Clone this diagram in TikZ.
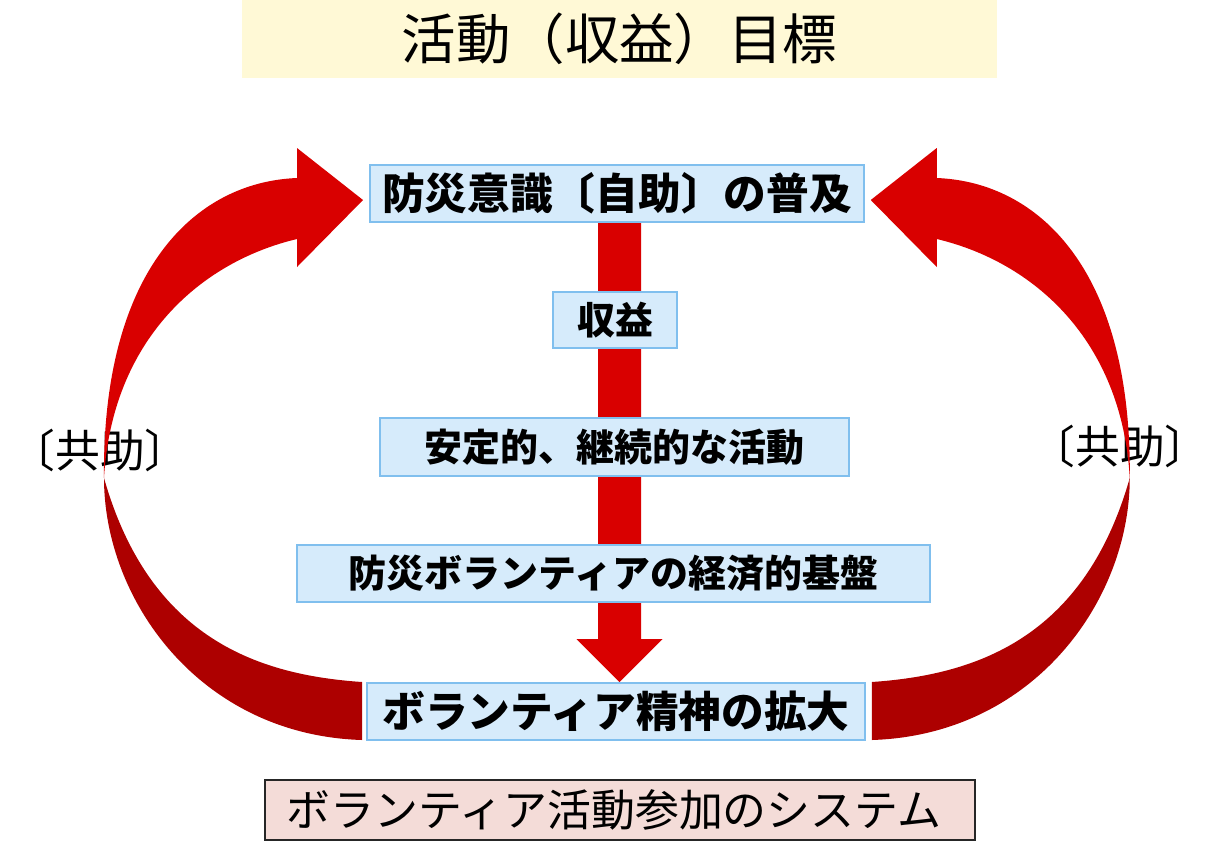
\documentclass[tikz,border=0pt]{standalone}
\usepackage{fontspec}
\setmainfont{Noto Sans CJK JP}
\usetikzlibrary{calc, arrows.meta, positioning, backgrounds}
\definecolor{goalfill}{HTML}{FFF9D6}
\definecolor{stagefill}{HTML}{D6EBFB}
\definecolor{stageline}{HTML}{80BFEE}
\definecolor{sysfill}{HTML}{F4DCD8}
\definecolor{brightred}{HTML}{D90000}
\definecolor{darkred}{HTML}{AD0000}
\newcommand{\bigjp}{\fontsize{24.3pt}{28pt}\selectfont\bfseries}
\newcommand{\midjp}{\fontsize{21.6pt}{25pt}\selectfont\bfseries}
% twisted ribbon arrow, left hand side
\newcommand{\ribbon}{%
	\fill[brightred] (104,478) .. controls (102,270) and (195,182) .. (297,178) -- (297,148) -- (363,200) -- (297,267) -- (297,239)
		.. controls (200,262) and (112,340) .. (104,478) -- cycle;
	\fill[darkred] (104,478) .. controls (104,600) and (200,735) .. (362,740) -- (362,682)
		.. controls (260,675) and (150,640) .. (104,478) -- cycle;
}

\begin{document}
\begin{tikzpicture}[x=0.02cm, y=-0.02cm,
	goal/.style={fill=goalfill, inner sep=0pt, minimum width=15.1cm, minimum height=1.56cm, font=\fontsize{31pt}{36pt}\selectfont},
	stage/.style={draw=stageline, line width=1.1pt, fill=stagefill, inner sep=0pt, minimum height=1.14cm},
	system/.style={draw=black!85, line width=1.2pt, fill=sysfill, inner sep=0pt, minimum width=14.2cm, minimum height=1.2cm, font=\fontsize{25pt}{30pt}\selectfont},
	mutual/.style={inner sep=0pt, font=\fontsize{25.5pt}{30pt}\selectfont}]
	\useasboundingbox (0,0) rectangle (1213,843);

	\node[goal] (goal) at (619.5,39) {活動（収益）目標};

	\node[stage, minimum width=9.88cm, font=\bigjp] (aware) at (617,193.5) {防災意識〔自助〕の普及};
	\node[stage, minimum width=2.48cm, minimum height=1.12cm, font=\midjp] (profit) at (615,320) {収益};
	\node[stage, minimum width=9.38cm, minimum height=1.16cm, font=\midjp] (steady) at (614.5,447) {安定的、継続的な活動};
	\node[stage, minimum width=12.66cm, font=\midjp] (base) at (613.5,573.5) {防災ボランティアの経済的基盤};
	\node[stage, minimum width=9.96cm, font=\bigjp] (spirit) at (616,711.5) {ボランティア精神の拡大};

	\node[system] (system) at (620,810) {\hspace{-0.25cm}ボランティア活動参加のシステム};

	\node[mutual] (mutualL) at (100,450) {〔共助〕};
	\node[mutual] (mutualR) at (1120,446) {〔共助〕};

	\begin{scope}[on background layer]
		\draw[brightred, line width=0.86cm, -{Triangle[width=1.72cm, length=0.86cm, line width=0pt]}] ([xshift=0.05cm]aware.south) -- ([xshift=0.07cm]spirit.north);
	\end{scope}

	\begin{scope}
		\ribbon
	\end{scope}
	\begin{scope}[xshift=24.68cm, xscale=-1]
		\ribbon
	\end{scope}
\end{tikzpicture}
\end{document}
